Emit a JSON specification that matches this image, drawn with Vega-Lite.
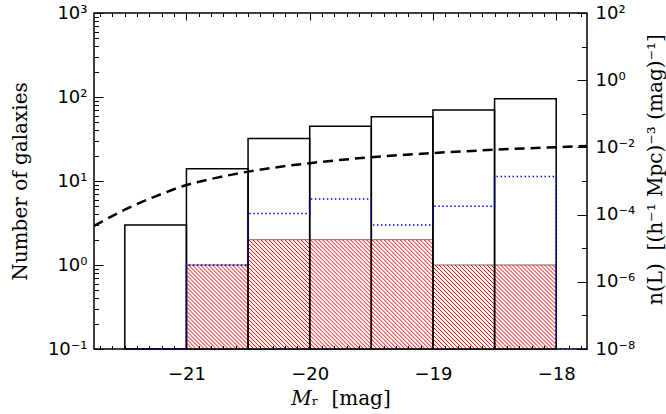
{
  "$schema": "https://vega.github.io/schema/vega-lite/v6.json",
  "width": 493,
  "height": 336,
  "autosize": {"type": "none"},
  "padding": {"left": 94, "top": 13, "right": 79, "bottom": 65},
  "background": "white",
  "config": {
    "view": {"stroke": "black", "strokeWidth": 1.5},
    "axis": {"grid": false, "domain": false, "tickColor": "black", "labelColor": "black", "titleColor": "black", "labelFont": "DejaVu Sans", "labelFontSize": 18, "titleFont": "DejaVu Serif", "titleFontSize": 20, "titleFontWeight": "normal", "labelFlush": false, "labelOverlap": false, "tickWidth": 1}
  },
  "datasets": {
    "bins": [
      {"lo": -21.5, "hi": -21.0, "n_all": 3},
      {"lo": -21.0, "hi": -20.5, "n_all": 14, "n_sub": 1},
      {"lo": -20.5, "hi": -20.0, "n_all": 32, "n_sub": 2},
      {"lo": -20.0, "hi": -19.5, "n_all": 45, "n_sub": 2},
      {"lo": -19.5, "hi": -19.0, "n_all": 58, "n_sub": 2},
      {"lo": -19.0, "hi": -18.5, "n_all": 70, "n_sub": 1},
      {"lo": -18.5, "hi": -18.0, "n_all": 95, "n_sub": 1}
    ],
    "blue": [
      {"M": -21.5, "n": 0.1}, {"M": -21.0, "n": 1}, {"M": -20.5, "n": 4.1}, {"M": -20.0, "n": 6.1},
      {"M": -19.5, "n": 3.0}, {"M": -19.0, "n": 5.0}, {"M": -18.5, "n": 11.3}, {"M": -18.0, "n": 0.1}, {"M": -17.75, "n": 0.1}
    ],
    "curve": [
      {"M": -21.75, "n": 4.6e-5}, {"M": -21.5, "n": 1.4e-4}, {"M": -21.25, "n": 3.5e-4}, {"M": -21.0, "n": 7.6e-4},
      {"M": -20.75, "n": 1.26e-3}, {"M": -20.5, "n": 1.9e-3}, {"M": -20.0, "n": 3.4e-3}, {"M": -19.5, "n": 5.1e-3},
      {"M": -19.0, "n": 6.8e-3}, {"M": -18.5, "n": 8.5e-3}, {"M": -17.75, "n": 1.1e-2}
    ]
  },
  "layer": [
    {
      "data": {"name": "bins"},
      "transform": [{"filter": "datum.n_sub == 1"}],
      "mark": {"type": "rect", "fill": "white", "stroke": "#444444", "strokeWidth": 0.8},
      "encoding": {
        "x": {"field": "lo", "type": "quantitative", "scale": {"domain": [-21.75, -17.75], "nice": false, "zero": false},
          "axis": {"orient": "bottom", "values": [-21, -20, -19, -18], "ticks": false, "labelPadding": 16, "title": "𝑀ᵣ\u00a0\u00a0[mag]", "titlePadding": 5}},
        "x2": {"field": "hi"},
        "y": {"field": "n_sub", "type": "quantitative", "scale": {"type": "log", "domain": [0.1, 1000], "nice": false},
          "axis": {"orient": "left", "values": [0.1, 1, 10, 100, 1000], "ticks": false, "labelPadding": 7,
            "labelExpr": "datum.value < 0.5 ? '10⁻¹' : datum.value < 5 ? '10⁰' : datum.value < 50 ? '10¹' : datum.value < 500 ? '10²' : '10³'",
            "title": "Number of galaxies", "titlePadding": 17}},
        "y2": {"datum": 0.1}
      }
    },
    {
      "data": {"name": "bins"},
      "transform": [{"filter": "datum.n_sub == 2"}],
      "mark": {"type": "rect", "fill": "white", "stroke": "#444444", "strokeWidth": 0.8},
      "encoding": {
        "x": {"field": "lo", "type": "quantitative", "scale": {"domain": [-21.75, -17.75], "nice": false, "zero": false},
          "axis": {"orient": "bottom", "values": [-21, -20, -19, -18], "labels": false, "tickSize": -7, "title": null, "zindex": 1}},
        "x2": {"field": "hi"},
        "y": {"field": "n_sub", "type": "quantitative", "scale": {"type": "log", "domain": [0.1, 1000], "nice": false},
          "axis": {"orient": "left", "values": [0.1, 1, 10, 100, 1000], "labels": false, "tickSize": -9, "title": null, "zindex": 1}},
        "y2": {"datum": 0.1}
      }
    },
    {
      "data": {"name": "bins"},
      "transform": [{"filter": "datum.n_sub == 1"}],
      "mark": {"type": "point", "filled": false, "opacity": 1, "stroke": "#ff0000", "strokeWidth": 1, "size": 4,
        "shape": "M0,-2L2,0M0,-6L6,0M0,-10L10,0M0,-14L14,0M0,-18L18,0M0,-22L22,0M0,-26L26,0M0,-30L30,0M0,-34L34,0M0,-38L38,0M0,-42L42,0M0,-46L46,0M0,-50L50,0M0,-54L54,0M0,-58L58,0M0,-62L61.6,-0.4M0,-66L61.6,-4.4M0,-70L61.6,-8.4M0,-74L61.6,-12.4M0,-78L61.6,-16.4M0,-82L61.6,-20.4M2,-84L61.6,-24.4M6,-84L61.6,-28.4M10,-84L61.6,-32.4M14,-84L61.6,-36.4M18,-84L61.6,-40.4M22,-84L61.6,-44.4M26,-84L61.6,-48.4M30,-84L61.6,-52.4M34,-84L61.6,-56.4M38,-84L61.6,-60.4M42,-84L61.6,-64.4M46,-84L61.6,-68.4M50,-84L61.6,-72.4M54,-84L61.6,-76.4M58,-84L61.6,-80.4"},
      "encoding": {
        "x": {"field": "lo", "type": "quantitative", "scale": {"domain": [-21.75, -17.75], "nice": false, "zero": false}, "axis": null},
        "y": {"datum": 0.1, "type": "quantitative", "scale": {"type": "log", "domain": [0.1, 1000], "nice": false}, "axis": null}
      }
    },
    {
      "data": {"name": "bins"},
      "transform": [{"filter": "datum.n_sub == 2"}],
      "mark": {"type": "point", "filled": false, "opacity": 1, "stroke": "#ff0000", "strokeWidth": 1, "size": 4,
        "shape": "M0,-2L2,0M0,-6L6,0M0,-10L10,0M0,-14L14,0M0,-18L18,0M0,-22L22,0M0,-26L26,0M0,-30L30,0M0,-34L34,0M0,-38L38,0M0,-42L42,0M0,-46L46,0M0,-50L50,0M0,-54L54,0M0,-58L58,0M0,-62L61.6,-0.4M0,-66L61.6,-4.4M0,-70L61.6,-8.4M0,-74L61.6,-12.4M0,-78L61.6,-16.4M0,-82L61.6,-20.4M0,-86L61.6,-24.4M0,-90L61.6,-28.4M0,-94L61.6,-32.4M0,-98L61.6,-36.4M0,-102L61.6,-40.4M0,-106L61.6,-44.4M0.7,-109.3L61.6,-48.4M4.7,-109.3L61.6,-52.4M8.7,-109.3L61.6,-56.4M12.7,-109.3L61.6,-60.4M16.7,-109.3L61.6,-64.4M20.7,-109.3L61.6,-68.4M24.7,-109.3L61.6,-72.4M28.7,-109.3L61.6,-76.4M32.7,-109.3L61.6,-80.4M36.7,-109.3L61.6,-84.4M40.7,-109.3L61.6,-88.4M44.7,-109.3L61.6,-92.4M48.7,-109.3L61.6,-96.4M52.7,-109.3L61.6,-100.4M56.7,-109.3L61.6,-104.4M60.7,-109.3L61.6,-108.4"},
      "encoding": {
        "x": {"field": "lo", "type": "quantitative", "scale": {"domain": [-21.75, -17.75], "nice": false, "zero": false}, "axis": null},
        "y": {"datum": 0.1, "type": "quantitative", "scale": {"type": "log", "domain": [0.1, 1000], "nice": false}, "axis": null}
      }
    },
    {
      "data": {"name": "bins"},
      "mark": {"type": "rect", "fill": "white", "fillOpacity": 0, "stroke": "black", "strokeWidth": 1.5},
      "encoding": {
        "x": {"field": "lo", "type": "quantitative", "scale": {"domain": [-21.75, -17.75], "nice": false, "zero": false},
          "axis": {"orient": "bottom", "tickCount": 40, "labels": false, "tickSize": -3.5, "title": null, "zindex": 1}},
        "x2": {"field": "hi"},
        "y": {"field": "n_all", "type": "quantitative", "scale": {"type": "log", "domain": [0.1, 1000], "nice": false},
          "axis": {"orient": "left", "values": [0.2,0.3,0.4,0.5,0.6,0.7,0.8,0.9,2,3,4,5,6,7,8,9,20,30,40,50,60,70,80,90,200,300,400,500,600,700,800,900], "labels": false, "tickSize": -4.5, "title": null, "zindex": 1}},
        "y2": {"datum": 0.1}
      }
    },
    {
      "data": {"name": "blue"},
      "mark": {"type": "line", "interpolate": "step-after", "color": "#0000ff", "strokeWidth": 1.5, "strokeDash": [1.5, 2.5]},
      "encoding": {
        "x": {"field": "M", "type": "quantitative", "scale": {"domain": [-21.75, -17.75], "nice": false, "zero": false},
          "axis": {"orient": "top", "values": [-21, -20, -19, -18], "labels": false, "tickSize": -7, "title": null, "zindex": 1}},
        "y": {"field": "n", "type": "quantitative", "scale": {"type": "log", "domain": [0.1, 1000], "nice": false}, "axis": null}
      }
    },
    {
      "data": {"name": "curve"},
      "mark": {"type": "line", "interpolate": "monotone", "color": "black", "strokeWidth": 2.5, "strokeDash": [10, 6], "clip": true},
      "encoding": {
        "x": {"field": "M", "type": "quantitative", "scale": {"domain": [-21.75, -17.75], "nice": false, "zero": false},
          "axis": {"orient": "top", "tickCount": 40, "labels": false, "tickSize": -3.5, "title": null, "zindex": 1}},
        "y": {"field": "n", "type": "quantitative", "scale": {"type": "log", "domain": [1e-8, 100], "nice": false},
          "axis": {"orient": "right", "values": [1e-8, 1e-6, 1e-4, 1e-2, 1, 100], "ticks": false, "labelPadding": 8,
            "labelExpr": "datum.value < 1e-7 ? '10⁻⁸' : datum.value < 1e-5 ? '10⁻⁶' : datum.value < 1e-3 ? '10⁻⁴' : datum.value < 0.1 ? '10⁻²' : datum.value < 10 ? '10⁰' : '10²'",
            "title": "n(L)\u00a0\u00a0[(h⁻¹ Mpc)⁻³ (mag)⁻¹]", "titleAngle": 270, "titleAlign": "center", "titleBaseline": "middle", "titleX": 68, "titleY": 156}}
      }
    },
    {
      "data": {"name": "curve"},
      "mark": {"type": "line", "opacity": 0},
      "encoding": {
        "x": {"field": "M", "type": "quantitative", "scale": {"domain": [-21.75, -17.75], "nice": false, "zero": false}, "axis": null},
        "y": {"field": "n", "type": "quantitative", "scale": {"type": "log", "domain": [1e-8, 100], "nice": false},
          "axis": {"orient": "right", "values": [1e-8, 1e-6, 1e-4, 1e-2, 1, 100], "labels": false, "tickSize": -10, "title": null, "zindex": 1}}
      }
    },
    {
      "data": {"name": "curve"},
      "mark": {"type": "line", "opacity": 0},
      "encoding": {
        "x": {"field": "M", "type": "quantitative", "scale": {"domain": [-21.75, -17.75], "nice": false, "zero": false}, "axis": null},
        "y": {"field": "n", "type": "quantitative", "scale": {"type": "log", "domain": [1e-8, 100], "nice": false},
          "axis": {"orient": "right", "values": [1e-7, 1e-5, 1e-3, 0.1, 10], "labels": false, "tickSize": -5.5, "title": null, "zindex": 1}}
      }
    }
  ],
  "resolve": {"scale": {"y": "independent"}, "axis": {"x": "independent", "y": "independent"}}
}
